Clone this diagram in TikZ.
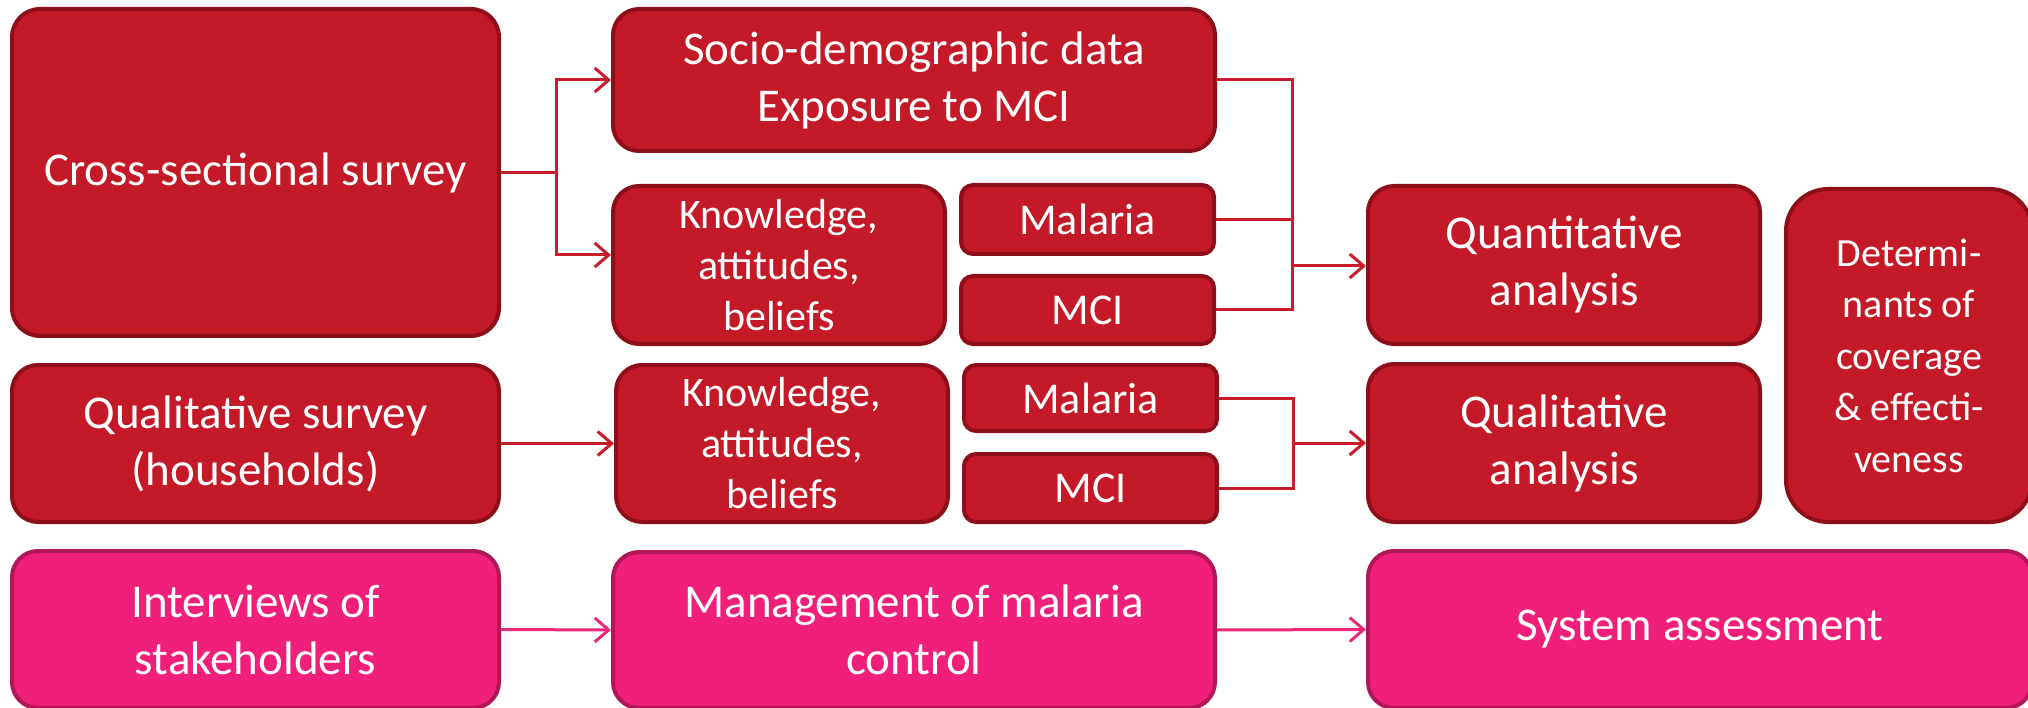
\documentclass[tikz,border=0pt]{standalone}
\usepackage{fontspec}
\setmainfont{Carlito}
\usetikzlibrary{arrows.meta,calc}
\definecolor{boxred}{RGB}{196,25,38}
\definecolor{edgered}{RGB}{142,15,26}
\definecolor{boxpink}{RGB}{240,31,122}
\definecolor{edgepink}{RGB}{176,22,88}
\definecolor{linered}{RGB}{200,28,42}
\definecolor{linepink}{RGB}{236,40,122}
\begin{document}
\begin{tikzpicture}[x=1pt,y=-1pt,
  box/.style={draw=edgered, fill=boxred, line width=4pt, rounded corners=26pt,
    text=white, align=center, inner sep=0pt, font=\fontsize{47}{57}\selectfont},
  pbox/.style={box, draw=edgepink, fill=boxpink},
  smallbox/.style={box, rounded corners=12pt, font=\fontsize{44}{52}\selectfont},
  kbox/.style={box, font=\fontsize{42}{51}\selectfont},
  wire/.style={draw=linered, line width=3pt},
  pwire/.style={draw=linepink, line width=3pt},
  conn/.style={wire, -{Straight Barb[length=14pt,width=24pt]}},
  pconn/.style={pwire, -{Straight Barb[length=14pt,width=24pt]}},
  sz/.style 2 args={minimum width=#1pt, minimum height=#2pt}
]
\useasboundingbox (0,0) rectangle (2028,708);
\clip (0,0) rectangle (2028,708);

% row 1
\node[box, sz={487}{327}, rounded corners=28pt] (cross) at (255.5,172.5) {Cross-sectional survey};
\node[box, sz={602}{142}] (socio) at (914,80) {Socio-demographic data\\Exposure to MCI};
\node[kbox, sz={332}{158}] (know1) at (779,265) {Knowledge,\\attitudes,\\beliefs};
\node[smallbox, sz={253}{69}] (mal1) at (1087.5,219.5) {Malaria};
\node[smallbox, sz={253}{68}] (mci1) at (1087.5,310) {MCI};
\node[box, sz={392}{158}] (quant) at (1564,265) {Quantitative\\analysis};
\node[kbox, sz={246}{333}, rounded corners=42pt, font=\fontsize{40}{51.5}\selectfont] (det) at (1909,355.5) {Determi-\\nants of\\coverage\\\& effecti-\\veness};

% row 2
\node[box, sz={487}{157}] (qsurv) at (255.5,443.5) {Qualitative survey\\(households)};
\node[kbox, sz={332}{157}] (know2) at (782,443.5) {Knowledge,\\attitudes,\\beliefs};
\node[smallbox, sz={253}{66}] (mal2) at (1090.5,398) {Malaria};
\node[smallbox, sz={253}{68}] (mci2) at (1090.5,488) {MCI};
\node[box, sz={392}{158}] (qanal) at (1564,443) {Qualitative\\analysis};

% row 3
\node[pbox, sz={487}{157}] (interv) at (255.5,629.5) {Interviews of\\stakeholders};
\node[pbox, sz={602}{156}] (manage) at (914,630) {Management of malaria\\control};
\node[pbox, sz={664}{157}] (system) at (1700,629.5) {System assessment};

% connectors row 1
\coordinate (b1) at (556,172.5);
\draw[wire] (cross.east) -- (b1);
\draw[conn] (b1) |- (socio.west);
\draw[conn] (b1) |- ([yshift=10pt]know1.west);
\coordinate (j1) at (1292,266);
\draw[wire] (socio.east) -| (j1);
\draw[wire] (mal1.east) -| (j1);
\draw[wire] (mci1.east) -| (j1);
\draw[conn] (j1) -- (quant.west |- j1);

% connectors row 2
\draw[conn] (qsurv.east) -- (know2.west);
\coordinate (j2) at (1293,443);
\draw[wire] (mal2.east) -| (j2);
\draw[wire] (mci2.east) -| (j2);
\draw[conn] (j2) -- (qanal.west |- j2);

% connectors row 3
\draw[pconn] (interv.east) -- (manage.west);
\draw[pconn] (manage.east) -- (system.west);
\end{tikzpicture}
\end{document}
